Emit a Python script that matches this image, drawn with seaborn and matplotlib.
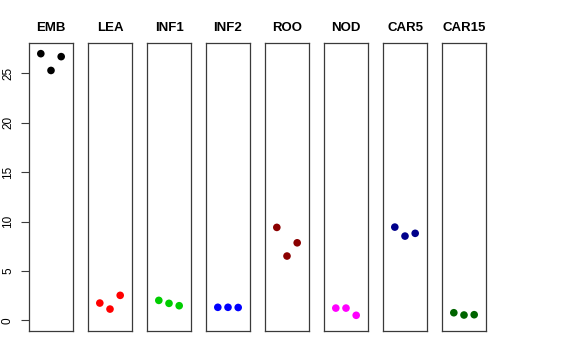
import matplotlib
matplotlib.use("Agg")
import matplotlib.pyplot as plt
import seaborn as sns
import pandas as pd

sns.set_style("white")
plt.rcParams['font.family'] = ['Liberation Sans', 'DejaVu Sans']
plt.rcParams['text.color'] = 'black'
plt.rcParams['ytick.color'] = 'black'
plt.rcParams['axes.labelcolor'] = 'black'

tissues = ["EMB", "LEA", "INF1", "INF2", "ROO", "NOD", "CAR5", "CAR15"]
colors = ["black", "red", "#00CD00", "blue", "#8B0000", "magenta", "#00008B", "#006400"]
EMB = [27.0, 25.3, 26.7]
LEA = [1.75, 1.14, 2.53]
INF1 = [2.02, 1.72, 1.48]
INF2 = [1.32, 1.32, 1.30]
ROO = [9.41, 6.51, 7.85]
NOD = [1.24, 1.24, 0.51]
CAR5 = [9.44, 8.53, 8.81]
CAR15 = [0.77, 0.54, 0.57]
values = [EMB, LEA, INF1, INF2, ROO, NOD, CAR5, CAR15]
replicates = [1, 2, 3]
yticks = [0, 5, 10, 15, 20, 25]

W, H = 576, 360
fig = plt.figure(figsize=(W / 100, H / 100), dpi=100)

left0, width, step = 29, 44, 59
top, bottom = 43, 331
ymin, ymax = 0, 27
pad = 0.04 * (ymax - ymin)
xpad = 0.04 * 4

for i, (name, col, vals) in enumerate(zip(tissues, colors, values)):
    x0 = left0 + i * step
    ax = fig.add_axes([x0 / W, (H - bottom) / H, width / W, (bottom - top) / H])
    df = pd.DataFrame({"rep": replicates, "val": vals})
    sns.scatterplot(data=df, x="rep", y="val", ax=ax, color=col, s=30,
                    edgecolor="none", linewidth=0)
    ax.set_xlim(0 - xpad, 4 + xpad)
    ax.set_ylim(ymin - pad, ymax + pad)
    ax.set_xlabel("")
    ax.set_ylabel("")
    ax.set_xticks([])
    for sp in ax.spines.values():
        sp.set_visible(True)
        sp.set_color("#3a3a3a")
        sp.set_linewidth(0.9)
    ax.set_title(name, fontsize=9.5, fontweight="bold", pad=8.5, color="black")
    if i == 0:
        ax.set_yticks(yticks)
        ax.set_yticklabels([str(t) for t in yticks])
        ax.tick_params(axis="y", left=True, length=5.8, width=0.8, color="#3a3a3a",
                       pad=5.0, labelsize=8.5, labelcolor="black")
        for lab in ax.get_yticklabels():
            lab.set_rotation(90)
            lab.set_va("center")
    else:
        ax.set_yticks([])

fig.savefig("out.png", dpi=100)
